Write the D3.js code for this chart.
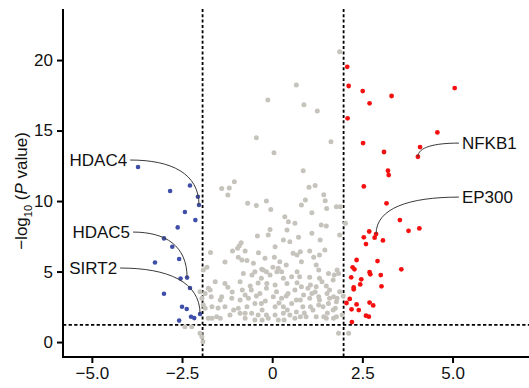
<!DOCTYPE html>
<html>
<head>
<meta charset="utf-8">
<script src="https://cdn.jsdelivr.net/npm/d3@7"></script>
<style>
  body { margin: 0; background: #fff; }
  svg { display: block; font-family: "Liberation Sans", Arial, sans-serif; }
</style>
</head>
<body>
<svg width="529" height="388"></svg>
<script>
// log2 fold change, -log10 P
const downGenes = [
  [-3.72, 12.41], [-2.28, 11.10], [-2.83, 10.71], [-2.06, 10.30], [-2.03, 9.72], [-2.42, 9.22],
  [-2.13, 8.65], [-2.62, 8.13], [-3.00, 7.35], [-2.77, 6.76], [-3.25, 5.64], [-2.58, 5.89],
  [-2.54, 4.50], [-2.36, 4.57], [-2.28, 3.83], [-3.00, 3.43], [-2.50, 2.50], [-2.37, 2.34],
  [-2.00, 1.99], [-2.25, 1.79], [-2.16, 1.70], [-2.58, 1.52]
];

const upGenes = [
  [2.08, 19.52], [2.12, 18.16], [2.51, 17.80], [3.31, 17.45], [5.06, 18.01], [2.70, 16.93],
  [2.09, 15.87], [4.58, 14.87], [2.52, 14.11], [4.10, 13.83], [3.10, 13.48], [4.04, 13.14],
  [3.21, 12.15], [3.23, 11.84], [2.54, 11.04], [3.17, 9.84], [3.54, 8.65], [3.78, 7.89],
  [4.08, 8.06], [2.69, 7.84], [2.88, 7.66], [2.84, 7.40], [2.54, 7.43], [3.07, 7.21],
  [2.60, 6.95], [2.34, 5.82], [2.92, 5.74], [2.23, 5.30], [2.28, 5.16], [3.58, 5.16],
  [2.70, 4.95], [2.72, 4.80], [3.01, 4.75], [2.19, 4.59], [2.47, 4.45], [2.44, 4.09],
  [3.03, 3.95], [2.26, 3.87], [2.26, 3.74], [2.15, 3.06], [2.06, 2.77], [2.70, 2.80],
  [2.80, 2.60], [2.34, 2.67], [2.20, 2.32], [2.40, 2.27], [2.60, 1.87], [2.68, 1.80],
  [2.21, 1.42]
];

const otherGenes = [
  [1.87, 20.59], [0.67, 18.23], [-0.12, 17.16], [0.88, 16.83], [1.25, 16.38], [-0.44, 14.49],
  [1.63, 14.20], [0.05, 13.43], [0.86, 12.14], [-1.05, 11.36], [-1.40, 10.89], [-1.19, 10.92],
  [-1.23, 10.43], [1.02, 10.97], [1.19, 11.11], [1.43, 10.45], [0.92, 10.07], [1.47, 10.02],
  [-0.68, 9.84], [-0.44, 9.68], [-0.16, 10.00], [-0.04, 9.40], [1.78, 9.60], [1.89, 9.60],
  [0.81, 9.72], [1.51, 9.48], [0.35, 8.89], [0.45, 8.53], [0.63, 8.42], [1.10, 9.17],
  [1.36, 8.30], [1.50, 8.23], [2.03, 8.42], [-0.06, 7.99], [-0.41, 7.52], [-0.11, 7.59],
  [0.31, 7.23], [0.49, 7.11], [0.08, 6.76], [0.41, 7.94], [1.10, 7.71], [1.87, 7.59],
  [0.73, 7.43], [1.33, 7.23], [-0.86, 7.04], [-0.91, 6.83], [-0.96, 6.65], [-1.10, 6.45],
  [-1.71, 6.35], [-0.75, 6.45], [-0.38, 6.33], [0.58, 6.29], [0.78, 6.40], [1.04, 6.45],
  [1.46, 6.52], [-0.94, 6.01], [-0.84, 5.82], [-0.70, 5.78], [-0.20, 5.94], [0.06, 6.01],
  [0.69, 6.17], [1.15, 6.01], [1.31, 6.17], [-1.31, 5.67], [-0.52, 5.58], [0.21, 5.70],
  [0.81, 5.70], [0.39, 5.46], [1.22, 5.46], [0.02, 5.30], [-0.29, 5.16], [0.17, 5.23],
  [-1.91, 5.11], [-1.81, 5.30], [-0.25, 5.11], [-0.16, 4.99], [-0.48, 4.99], [0.13, 4.99],
  [0.26, 4.99], [0.69, 4.99], [1.29, 5.11], [1.80, 5.11], [1.72, 4.75], [1.84, 4.87],
  [-0.80, 4.87], [-0.56, 4.75], [-0.06, 4.75], [-0.30, 4.52], [0.31, 4.52], [0.54, 4.63],
  [0.76, 4.63], [1.04, 4.59], [1.31, 4.52], [1.56, 4.87], [1.69, 4.40], [-1.58, 4.28],
  [-1.31, 4.16], [-0.89, 4.28], [-0.15, 4.16], [0.08, 4.04], [0.41, 4.16], [0.69, 4.21],
  [1.06, 4.04], [1.38, 4.28], [0.81, 3.92], [0.99, 3.81], [1.22, 3.92], [-1.23, 3.88],
  [-1.77, 3.81], [-0.58, 3.69], [-0.16, 3.81], [0.63, 3.69], [1.59, 3.69], [1.87, 3.57],
  [-1.86, 3.45], [-2.00, 3.57], [-1.72, 3.69], [-0.34, 3.45], [0.12, 3.57], [0.44, 3.45],
  [1.10, 3.45], [1.52, 3.45], [-0.75, 3.33], [0.87, 3.33], [-1.69, 3.21], [-1.40, 3.21],
  [0.03, 3.21], [1.29, 3.21], [1.70, 3.21], [1.97, 3.26], [-1.95, 3.10], [-1.12, 3.10],
  [-0.66, 3.10], [0.26, 3.10], [1.04, 3.10], [1.59, 3.10], [1.80, 3.10], [-1.44, 2.98],
  [-0.89, 2.98], [0.78, 2.98], [1.31, 2.98], [1.78, 2.86], [-0.48, 2.74], [-0.30, 2.74],
  [0.54, 2.74], [1.56, 2.74], [-1.91, 2.62], [1.29, 2.62], [-1.31, 2.50], [-1.67, 2.50],
  [-0.70, 2.50], [0.08, 2.50], [0.31, 2.50], [0.85, 2.50], [1.06, 2.50], [1.41, 2.50],
  [-1.86, 2.39], [-0.94, 2.39], [1.75, 2.39], [-1.07, 2.27], [1.13, 2.27], [1.69, 2.27],
  [-0.89, 2.04], [-0.75, 2.04], [-0.57, 2.04], [0.31, 2.04], [-0.39, 1.91], [-0.16, 1.91],
  [0.08, 1.91], [0.49, 1.91], [1.94, 1.91], [-1.54, 1.79], [0.78, 1.79], [0.94, 1.79],
  [1.22, 1.79], [1.43, 1.79], [1.78, 1.79], [-1.67, 1.68], [-1.44, 1.68], [-1.77, 1.68],
  [-0.75, 1.68], [-0.11, 1.68], [0.63, 1.68], [1.50, 1.68], [1.70, 1.68], [-0.48, 1.56],
  [0.17, 1.56], [-2.42, 1.09], [-2.23, 1.09], [-2.00, 0.62], [-1.95, 0.38], [-1.92, 0.02],
  [1.84, 0.62], [2.12, 0.62], [-1.17, 1.91], [-0.28, 2.27], [0.42, 2.27], [0.67, 2.13],
  [-0.44, 3.26], [-0.19, 2.91], [0.19, 2.77], [0.67, 2.98], [-1.11, 3.55], [-0.83, 3.69],
  [1.19, 3.55], [1.50, 3.97], [0.39, 3.26], [-0.39, 4.18], [-0.61, 3.97], [-1.50, 2.41],
  [1.53, 2.06], [0.89, 2.06], [0.33, 1.56], [-0.28, 1.56]
];

const xTicks = [-5, -2.5, 0, 2.5, 5];
const yTicks = [0, 5, 10, 15, 20];
const foldCutoffs = [-1.93, 1.98];
const pCutoff = 1.22;

// gene, point, label anchor (data units)
const labels = [
  { gene: 'HDAC4', x: -2.03, y: 9.72, lx: -4.02, ly: 12.91, side: 'left' },
  { gene: 'HDAC5', x: -2.36, y: 4.57, lx: -3.94, ly: 7.80, side: 'left' },
  { gene: 'SIRT2', x: -2.00, y: 1.99, lx: -4.30, ly: 5.25, side: 'left' },
  { gene: 'NFKB1', x: 4.04, y: 13.14, lx: 5.26, ly: 14.11, side: 'right' },
  { gene: 'EP300', x: 2.88, y: 7.66, lx: 5.26, ly: 10.28, side: 'right' }
];

const svg = d3.select('svg');
const plotLeft = 63, plotRight = 529, plotTop = 9, plotBottom = 357;

const x = d3.scaleLinear().domain([-5.8, 7.12]).range([plotLeft, plotRight]);
const y = d3.scaleLinear().domain([-1.06, 23.62]).range([plotBottom, plotTop]);

// cutoff lines
svg.append('g')
  .selectAll('line')
  .data(foldCutoffs)
  .enter()
  .append('line')
  .attr('x1', d => x(d)).attr('x2', d => x(d))
  .attr('y1', plotTop).attr('y2', plotBottom)
  .attr('stroke', '#000')
  .attr('stroke-width', 1.8)
  .attr('stroke-dasharray', '3,2.3');

svg.append('line')
  .attr('x1', plotLeft).attr('x2', plotRight)
  .attr('y1', y(pCutoff)).attr('y2', y(pCutoff))
  .attr('stroke', '#000')
  .attr('stroke-width', 1.8)
  .attr('stroke-dasharray', '3.3,2.3');

function dots(data, color, r) {
  svg.append('g')
    .selectAll('circle')
    .data(data)
    .enter()
    .append('circle')
    .attr('cx', d => x(d[0]))
    .attr('cy', d => y(d[1]))
    .attr('r', r)
    .attr('fill', color);
}

dots(otherGenes, '#c5c3bc', 2.5);
dots(downGenes, '#3f4ea8', 2.3);
dots(upGenes, '#f51010', 2.4);

// connectors + labels
labels.forEach(l => {
  const px = x(l.x), py = y(l.y);
  const dir = l.side === 'left' ? 1 : -1;
  const sx = x(l.lx) + dir * 3, sy = y(l.ly);
  const p = d3.path();
  p.moveTo(sx, sy);
  p.bezierCurveTo(sx + (px - sx) * 0.6, sy, px, sy + (py - sy) * 0.3, px, py);
  svg.append('path')
    .attr('d', p.toString())
    .attr('fill', 'none')
    .attr('stroke', '#3a3a3a')
    .attr('stroke-width', 1);
  svg.append('text')
    .attr('x', x(l.lx))
    .attr('y', sy)
    .attr('dy', '0.35em')
    .attr('text-anchor', l.side === 'left' ? 'end' : 'start')
    .attr('font-size', 17)
    .attr('fill', '#111')
    .text(l.gene);
});

// axes
const xAxis = svg.append('g')
  .attr('transform', `translate(0,${plotBottom})`)
  .call(d3.axisBottom(x).tickValues(xTicks).tickSize(6).tickPadding(4)
    .tickFormat(d => d === 0 ? '0' : d3.format('.1f')(d).replace('-', '\u2212')));

const yAxis = svg.append('g')
  .attr('transform', `translate(${plotLeft},0)`)
  .call(d3.axisLeft(y).tickValues(yTicks).tickSize(6).tickPadding(4));

[xAxis, yAxis].forEach(a => {
  a.select('.domain').remove();
  a.selectAll('.tick line').attr('stroke', '#000').attr('stroke-width', 2);
  a.selectAll('.tick text')
    .attr('font-size', 17)
    .attr('fill', '#111')
    .attr('font-family', '"Liberation Sans", Arial, sans-serif');
});

svg.append('line')
  .attr('x1', plotLeft).attr('x2', plotLeft).attr('y1', plotTop).attr('y2', plotBottom + 1)
  .attr('stroke', '#000').attr('stroke-width', 2);
svg.append('line')
  .attr('x1', plotLeft - 1).attr('x2', plotRight).attr('y1', plotBottom).attr('y2', plotBottom)
  .attr('stroke', '#000').attr('stroke-width', 2);

// y title
const title = svg.append('text')
  .attr('transform', `translate(27,${(plotTop + plotBottom) / 2 + 8}) rotate(-90)`)
  .attr('text-anchor', 'middle')
  .attr('font-size', 17)
  .attr('fill', '#111');
title.append('tspan').text('\u2212log');
title.append('tspan').attr('font-size', 11).attr('dy', 5).text('10');
title.append('tspan').attr('dy', -5).text(' (');
title.append('tspan').attr('font-style', 'italic').text('P');
title.append('tspan').text(' value)');
</script>
</body>
</html>
